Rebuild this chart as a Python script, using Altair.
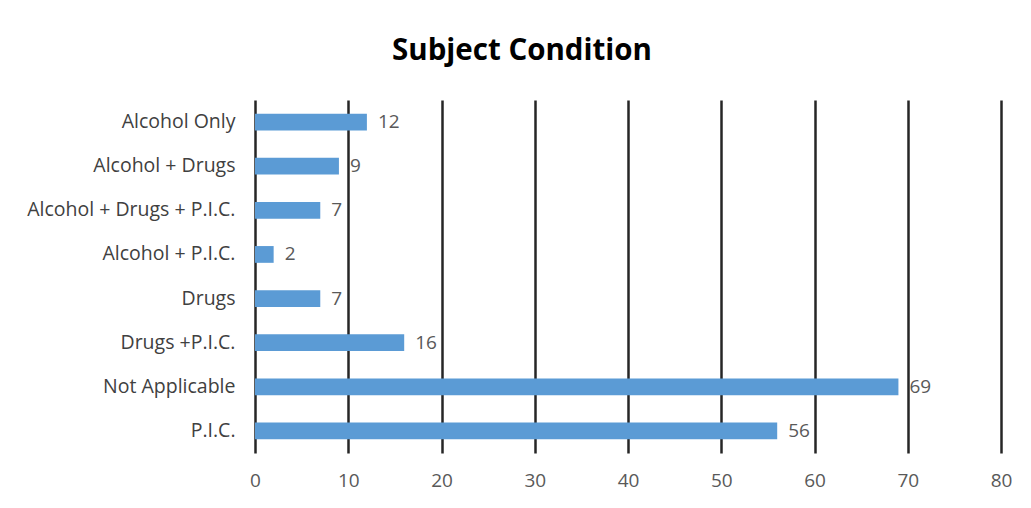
import altair as alt
import pandas as pd

categories = ["Alcohol Only", "Alcohol + Drugs", "Alcohol + Drugs + P.I.C.", "Alcohol + P.I.C.",
              "Drugs", "Drugs +P.I.C.", "Not Applicable", "P.I.C."]
counts = [12, 9, 7, 2, 7, 16, 69, 56]
x_ticks = [0, 10, 20, 30, 40, 50, 60, 70, 80]

df = pd.DataFrame({"condition": categories, "count": counts})

FONT = "Open Sans"
GRAY = "#595959"

base = alt.Chart(df).encode(
    y=alt.Y("condition:N", sort=categories, title=None,
            scale=alt.Scale(paddingInner=0.62, paddingOuter=0.31),
            axis=alt.Axis(domain=False, ticks=False, labelPadding=20, labelFontSize=19.5,
                          labelColor="#404040", labelFont=FONT, labelLimit=400)),
    x=alt.X("count:Q", title=None, scale=alt.Scale(domain=[0, 80], nice=False),
            axis=alt.Axis(values=x_ticks, domain=False, ticks=False, grid=True,
                          gridColor="#262626", gridWidth=2.5, labelPadding=18,
                          labelFlush=False,
                          labelFontSize=19, labelColor=GRAY, labelFont=FONT)),
)

bars = base.mark_bar(color="#5B9BD5")
labels = base.mark_text(align="left", baseline="middle", dx=11, fontSize=19,
                        color=GRAY, font=FONT).encode(text="count:Q")

chart = (bars + labels).properties(
    width=746, height=353,
    autosize=alt.AutoSizeParams(type="none"),
    padding={"left": 247, "top": 92, "right": 22, "bottom": 40},
    title=alt.TitleParams("Subject Condition", fontSize=29.5, font=FONT, fontWeight="bold",
                          color="#000000", anchor="middle", dx=-106, offset=34),
).configure_view(stroke=None)

chart.save("out.html", embed_options={"renderer": "svg", "actions": False})
